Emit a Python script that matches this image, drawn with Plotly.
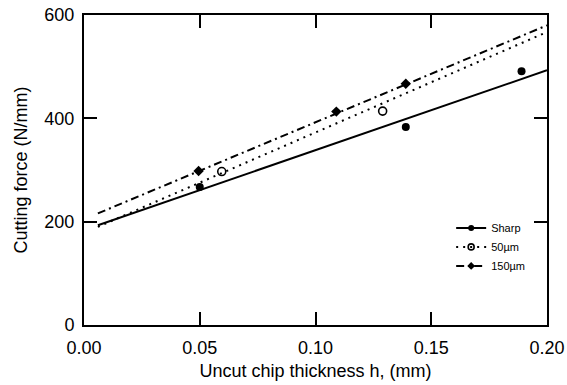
import plotly.graph_objects as go

# Data
h_sharp = [0.050, 0.139, 0.189]
f_sharp = [267, 383, 491]
h_50 = [0.0595, 0.129]
f_50 = [297, 414]
h_150 = [0.0495, 0.109, 0.139]
f_150 = [298, 413, 467]

fit_h = [0.006, 0.2]
fit_sharp = [193, 493]
fit_50 = [190, 567]
fit_150 = [216, 580]

series_names = ["Sharp", "50\u00b5m", "150\u00b5m"]
x_ticks = [0.00, 0.05, 0.10, 0.15, 0.20]
y_ticks = [0, 200, 400, 600]

FONT = "Liberation Sans, Arial, Helvetica, sans-serif"

fig = go.Figure()

styles = [
    dict(dash="solid", symbol="circle", mcolor="black", mline=0),
    dict(dash="2px,5px", symbol="circle-open", mcolor="black", mline=1.6),
    dict(dash="8px,4px,2px,4px", symbol="diamond", mcolor="black", mline=0),
]
pts = [(h_sharp, f_sharp), (h_50, f_50), (h_150, f_150)]
fits = [fit_sharp, fit_50, fit_150]

for name, st, (hx, fy), fit in zip(series_names, styles, pts, fits):
    fig.add_trace(go.Scatter(
        x=fit_h, y=fit, mode="lines",
        line=dict(color="black", width=2, dash=st["dash"]),
        showlegend=False, hoverinfo="skip"))
    fig.add_trace(go.Scatter(
        x=hx, y=fy, mode="markers",
        marker=dict(symbol=st["symbol"], size=8, color=st["mcolor"],
                    line=dict(color="black", width=st["mline"])),
        showlegend=False))
    # legend entry
    fig.add_trace(go.Scatter(
        x=[None], y=[None], mode="lines+markers", name=name,
        line=dict(color="black", width=2, dash=st["dash"]),
        marker=dict(symbol=st["symbol"], size=6, color=st["mcolor"],
                    line=dict(color="black", width=st["mline"]))))

axis_common = dict(
    showline=True, linecolor="black", linewidth=2, mirror="ticks",
    ticks="inside", ticklen=13, tickwidth=2, tickcolor="black",
    showgrid=False, zeroline=False, automargin=False,
    ticklabeloverflow="allow",
    tickfont=dict(family=FONT, size=18, color="black"),
)

fig.update_xaxes(
    range=[0, 0.2], tickvals=x_ticks,
    ticktext=[f"{v:.2f}" for v in x_ticks],
    ticklabelstandoff=5,
    title=dict(text="Uncut chip thickness h, (mm)",
               font=dict(family=FONT, size=18, color="black"), standoff=8),
    **axis_common)
fig.update_yaxes(
    range=[0, 600], tickvals=y_ticks,
    ticktext=[str(v) for v in y_ticks],
    ticklabelstandoff=4,
    title=dict(text="Cutting force (N/mm)",
               font=dict(family=FONT, size=18, color="black"), standoff=12),
    **axis_common)

fig.update_layout(
    width=567, height=385,
    margin=dict(l=84, r=20, t=15, b=60),
    paper_bgcolor="white", plot_bgcolor="white",
    font=dict(family=FONT, color="black"),
    legend=dict(x=0.793, y=0.36, xanchor="left", yanchor="top",
                bgcolor="rgba(0,0,0,0)", font=dict(family=FONT, size=11, color="black"),
                itemwidth=30, tracegroupgap=0),
)

# remove the default 8px page margin so the figure fills the window exactly
fig.write_html("out.html",
               config={"displayModeBar": False},
               post_script="document.body.style.margin='0';document.body.style.overflow='hidden';")
